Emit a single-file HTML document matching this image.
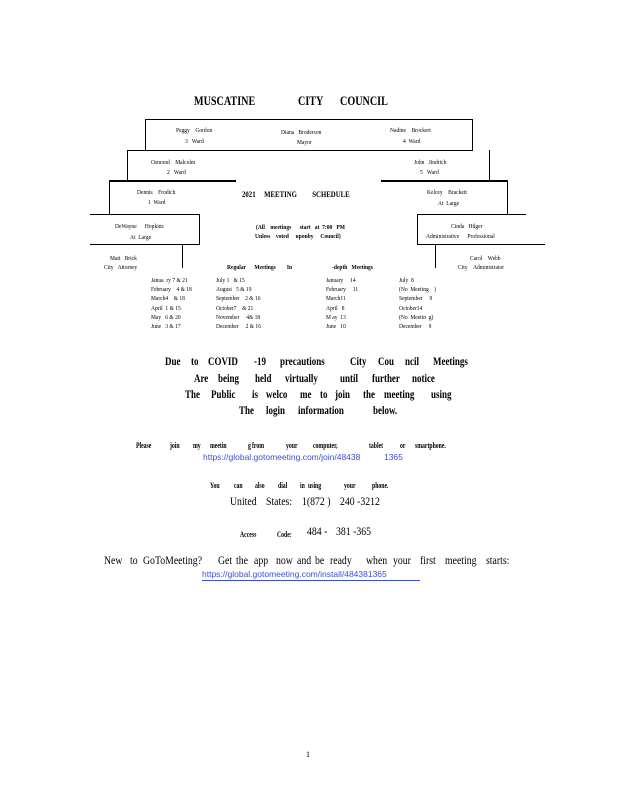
<!DOCTYPE html>
<html><head><meta charset="utf-8"><style>
body{margin:0;width:618px;height:800px;background:#fff;position:relative;overflow:hidden;font-family:"Liberation Serif",serif;color:#000}
.w{position:absolute;white-space:nowrap;line-height:1}
.s{font-size:6.5px;transform:scaleX(.85);transform-origin:left top}
.h{position:absolute;height:1px;background:#000}
.v{position:absolute;width:1px;background:#000}
.b{font-weight:bold}
.m span{position:absolute;white-space:nowrap;font-size:11.5px;font-weight:bold;transform:scaleX(.78);transform-origin:left top;line-height:1}
.p span{position:absolute;white-space:nowrap;font-size:8px;font-weight:bold;transform:scaleX(.72);transform-origin:left top;line-height:1}
.n span{position:absolute;white-space:nowrap;font-size:11.5px;transform:scaleX(.85);transform-origin:left top;line-height:1}
.lk{color:#3b4fd6;font-family:"Liberation Sans",sans-serif;font-size:8.5px}
</style></head><body>
<div class="w b" style="left:194px;top:94px;font-size:13px;transform:scaleX(.78);transform-origin:left top">MUSCATINE</div>
<div class="w b" style="left:298px;top:94px;font-size:13px;transform:scaleX(.78);transform-origin:left top">CITY</div>
<div class="w b" style="left:340px;top:94px;font-size:13px;transform:scaleX(.78);transform-origin:left top">COUNCIL</div>

<div class="h" style="left:145px;top:119px;width:328px"></div>
<div class="v" style="left:145px;top:119px;height:31px"></div>
<div class="v" style="left:472px;top:119px;height:31px"></div>
<div class="h" style="left:127px;top:150px;width:346px"></div>
<div class="v" style="left:127px;top:150px;height:31px"></div>
<div class="v" style="left:489px;top:150px;height:31px"></div>
<div class="h" style="left:109px;top:180px;width:127px;height:2px"></div>
<div class="h" style="left:381px;top:180px;width:127px;height:2px"></div>
<div class="v" style="left:109px;top:180px;height:34px"></div>
<div class="v" style="left:507px;top:180px;height:34px"></div>
<div class="h" style="left:90px;top:214px;width:110px"></div>
<div class="h" style="left:417px;top:214px;width:109px"></div>
<div class="v" style="left:199px;top:214px;height:30px"></div>
<div class="v" style="left:417px;top:214px;height:30px"></div>
<div class="h" style="left:90px;top:244px;width:110px"></div>
<div class="h" style="left:417px;top:244px;width:128px"></div>
<div class="v" style="left:182px;top:244px;height:24px"></div>
<div class="v" style="left:435px;top:244px;height:24px"></div>

<div class="w s" style="left:176px;top:128px">Peggy&nbsp;&nbsp;&nbsp;&nbsp;Gordon</div>
<div class="w s" style="left:185px;top:139px">3&nbsp;&nbsp;&nbsp;Ward</div>
<div class="w s" style="left:281px;top:130px">Diana&nbsp;&nbsp;&nbsp;Broderson</div>
<div class="w s" style="left:297px;top:140px">Mayor</div>
<div class="w s" style="left:390px;top:128px">Nadine&nbsp;&nbsp;&nbsp;&nbsp;Brockert</div>
<div class="w s" style="left:403px;top:139px">4&nbsp;&nbsp;Ward</div>
<div class="w s" style="left:151px;top:160px">Osmond&nbsp;&nbsp;&nbsp;&nbsp;Malcolm</div>
<div class="w s" style="left:167px;top:170px">2&nbsp;&nbsp;&nbsp;Ward</div>
<div class="w s" style="left:414px;top:160px">John&nbsp;&nbsp;&nbsp;Jindrich</div>
<div class="w s" style="left:420px;top:170px">5&nbsp;&nbsp;&nbsp;Ward</div>
<div class="w s" style="left:137px;top:190px">Dennis&nbsp;&nbsp;&nbsp;&nbsp;Frodich</div>
<div class="w s" style="left:148px;top:200px">1&nbsp;&nbsp;Ward</div>
<div class="w s" style="left:427px;top:190px">Kelcey&nbsp;&nbsp;&nbsp;&nbsp;Brackett</div>
<div class="w s" style="left:438px;top:201px">At&nbsp;&nbsp;Large</div>
<div class="w s" style="left:115px;top:224px">DeWayne&nbsp;&nbsp;&nbsp;&nbsp;&nbsp;&nbsp;Hopkins</div>
<div class="w s" style="left:130px;top:235px">At&nbsp;&nbsp;Large</div>
<div class="w s" style="left:451px;top:224px">Cinda&nbsp;&nbsp;&nbsp;Hilger</div>
<div class="w s" style="left:426px;top:234px">Administrative&nbsp;&nbsp;&nbsp;&nbsp;&nbsp;&nbsp;Professional</div>
<div class="w s" style="left:110px;top:256px">Matt&nbsp;&nbsp;&nbsp;Brick</div>
<div class="w s" style="left:104px;top:265px">City&nbsp;&nbsp;&nbsp;Attorney</div>
<div class="w s" style="left:470px;top:256px">Carol&nbsp;&nbsp;&nbsp;&nbsp;Webb</div>
<div class="w s" style="left:458px;top:265px">City&nbsp;&nbsp;&nbsp;&nbsp;Administrator</div>

<div class="w b" style="left:242px;top:190px;font-size:8.5px;transform:scaleX(.8);transform-origin:left top">2021&nbsp;&nbsp;&nbsp;&nbsp;&nbsp;MEETING&nbsp;&nbsp;&nbsp;&nbsp;&nbsp;&nbsp;&nbsp;&nbsp;&nbsp;SCHEDULE</div>
<div class="w s b" style="left:256px;top:225px">(All&nbsp;&nbsp;&nbsp;&nbsp;meetings&nbsp;&nbsp;&nbsp;&nbsp;&nbsp;&nbsp;start&nbsp;&nbsp;&nbsp;at&nbsp;&nbsp;7:00&nbsp;&nbsp;&nbsp;PM</div>
<div class="w s b" style="left:255px;top:234px">Unless&nbsp;&nbsp;&nbsp;&nbsp;voted&nbsp;&nbsp;&nbsp;&nbsp;&nbsp;uponby&nbsp;&nbsp;&nbsp;&nbsp;&nbsp;Council)</div>

<div class="w s b" style="left:227px;top:265px">Regular&nbsp;&nbsp;&nbsp;&nbsp;&nbsp;&nbsp;Meetings&nbsp;&nbsp;&nbsp;&nbsp;&nbsp;&nbsp;&nbsp;&nbsp;In</div>
<div class="w s b" style="left:332px;top:265px">-depth&nbsp;&nbsp;&nbsp;Meetings</div>

<div class="w s" style="left:151px;top:276px;line-height:9.2px">Janua&nbsp;&nbsp;ry&nbsp;7&nbsp;&amp;&nbsp;21<br>February&nbsp;&nbsp;&nbsp;&nbsp;4&nbsp;&amp;&nbsp;18<br>March4&nbsp;&nbsp;&nbsp;&nbsp;&amp;&nbsp;18<br>April&nbsp;&nbsp;1&nbsp;&amp;&nbsp;15<br>May&nbsp;&nbsp;&nbsp;6&nbsp;&amp;&nbsp;20<br>June&nbsp;&nbsp;&nbsp;3&nbsp;&amp;&nbsp;17</div>
<div class="w s" style="left:216px;top:276px;line-height:9.2px">July&nbsp;1&nbsp;&nbsp;&nbsp;&amp;&nbsp;15<br>August&nbsp;&nbsp;&nbsp;5&nbsp;&amp;&nbsp;19<br>September&nbsp;&nbsp;&nbsp;&nbsp;2&nbsp;&amp;&nbsp;16<br>October7&nbsp;&nbsp;&nbsp;&nbsp;&amp;&nbsp;21<br>November&nbsp;&nbsp;&nbsp;&nbsp;&nbsp;4&amp;&nbsp;18<br>December&nbsp;&nbsp;&nbsp;&nbsp;&nbsp;2&nbsp;&amp;&nbsp;16</div>
<div class="w s" style="left:326px;top:276px;line-height:9.2px">January&nbsp;&nbsp;&nbsp;&nbsp;&nbsp;14<br>February&nbsp;&nbsp;&nbsp;&nbsp;&nbsp;11<br>March11<br>April&nbsp;&nbsp;&nbsp;8<br>M&nbsp;ay&nbsp;&nbsp;13<br>June&nbsp;&nbsp;&nbsp;10</div>
<div class="w s" style="left:399px;top:276px;line-height:9.2px">July&nbsp;&nbsp;8<br>(No&nbsp;&nbsp;Meeting&nbsp;&nbsp;&nbsp;&nbsp;)<br>September&nbsp;&nbsp;&nbsp;&nbsp;&nbsp;9<br>October14<br>(No&nbsp;&nbsp;Meetin&nbsp;&nbsp;g)<br>December&nbsp;&nbsp;&nbsp;&nbsp;&nbsp;9</div>

<div class="m">
<span style="left:165px;top:357px">Due</span><span style="left:191px;top:357px">to</span><span style="left:208px;top:357px">COVID</span><span style="left:254px;top:357px">-19</span><span style="left:280px;top:357px">precautions</span><span style="left:350px;top:357px">City</span><span style="left:378px;top:357px">Cou</span><span style="left:405px;top:357px">ncil</span><span style="left:433px;top:357px">Meetings</span>
<span style="left:194px;top:374px">Are</span><span style="left:218px;top:374px">being</span><span style="left:255px;top:374px">held</span><span style="left:285px;top:374px">virtually</span><span style="left:340px;top:374px">until</span><span style="left:372px;top:374px">further</span><span style="left:412px;top:374px">notice</span>
<span style="left:185px;top:390px">The</span><span style="left:211px;top:390px">Public</span><span style="left:252px;top:390px">is</span><span style="left:266px;top:390px">welco</span><span style="left:300px;top:390px">me</span><span style="left:320px;top:390px">to</span><span style="left:335px;top:390px">join</span><span style="left:363px;top:390px">the</span><span style="left:384px;top:390px">meeting</span><span style="left:431px;top:390px">using</span>
<span style="left:239px;top:406px">The</span><span style="left:266px;top:406px">login</span><span style="left:298px;top:406px">information</span><span style="left:373px;top:406px">below.</span>
</div>

<div class="p">
<span style="left:136px;top:442px">Please</span><span style="left:170px;top:442px">join</span><span style="left:193px;top:442px">my</span><span style="left:210px;top:442px">meetin</span><span style="left:248px;top:442px">g</span><span style="left:252px;top:442px">from</span><span style="left:286px;top:442px">your</span><span style="left:313px;top:442px">computer,</span><span style="left:369px;top:442px">tablet</span><span style="left:400px;top:442px">or</span><span style="left:415px;top:442px">smartphone.</span>
<span style="left:210px;top:482px">You</span><span style="left:234px;top:482px">can</span><span style="left:255px;top:482px">also</span><span style="left:278px;top:482px">dial</span><span style="left:300px;top:482px">in</span><span style="left:308px;top:482px">using</span><span style="left:344px;top:482px">your</span><span style="left:372px;top:482px">phone.</span>
<span style="left:240px;top:531px">Access</span><span style="left:277px;top:531px">Code:</span>
</div>
<div class="w lk" style="left:203px;top:453px">https://global.gotomeeting.com/join/48438&nbsp;&nbsp;&nbsp;&nbsp;&nbsp;&nbsp;&nbsp;&nbsp;&nbsp;&nbsp;1365</div>

<div class="n">
<span style="left:230px;top:497px">United</span><span style="left:266px;top:497px">States:</span><span style="left:302px;top:497px">1(872 )</span><span style="left:340px;top:497px">240 -3212</span>
<span style="left:307px;top:527px">484 -</span><span style="left:336px;top:527px">381 -365</span>
<span style="left:104px;top:556px">New</span><span style="left:130px;top:556px">to</span><span style="left:143px;top:556px">GoToMeeting?</span><span style="left:218px;top:556px">Get</span><span style="left:236px;top:556px">the</span><span style="left:254px;top:556px">app</span><span style="left:276px;top:556px">now</span><span style="left:297px;top:556px">and</span><span style="left:315px;top:556px">be</span><span style="left:330px;top:556px">ready</span><span style="left:366px;top:556px">when</span><span style="left:393px;top:556px">your</span><span style="left:420px;top:556px">first</span><span style="left:445px;top:556px">meeting</span><span style="left:486px;top:556px">starts:</span>
</div>
<div class="w lk" style="left:202px;top:570px">https://global.gotomeeting.com/install/484381365</div>
<div class="h" style="left:202px;top:580px;width:218px;background:#3b4fd6"></div>

<div class="w" style="left:306px;top:751px;font-size:8px">1</div>
</body></html>
